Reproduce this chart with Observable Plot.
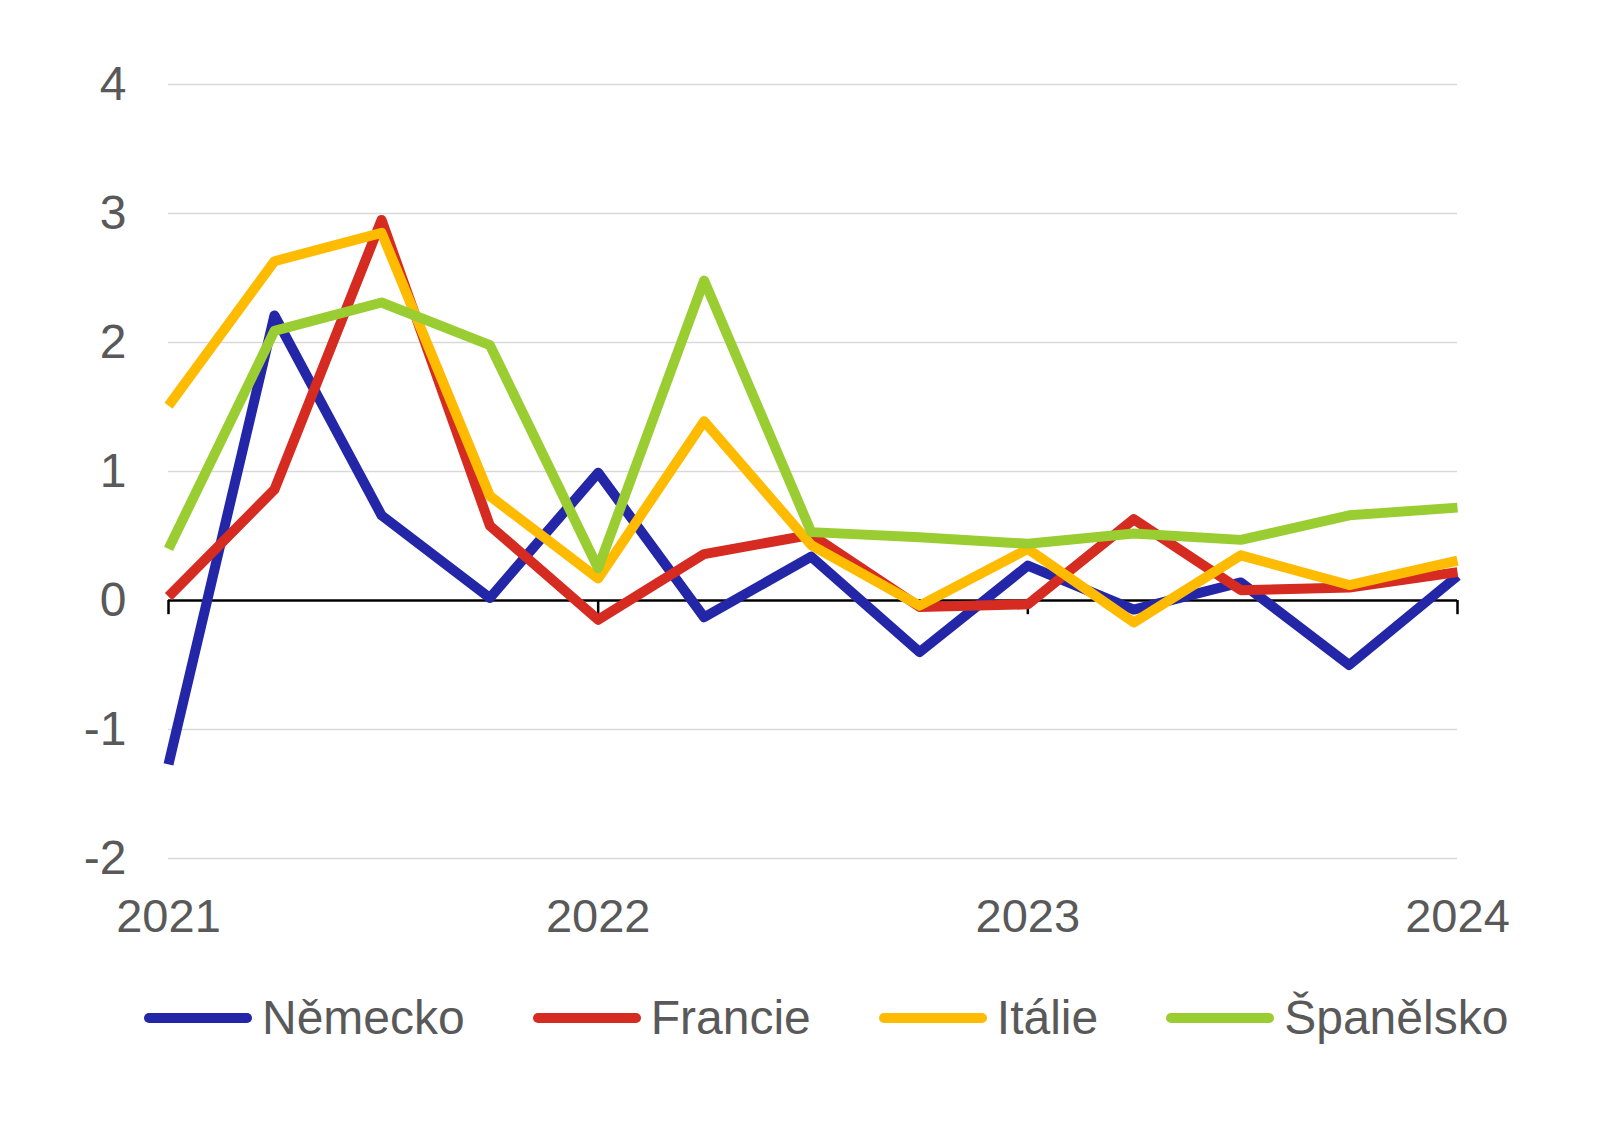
<!DOCTYPE html>
<html>
<head>
<meta charset="utf-8">
<script src="https://cdn.jsdelivr.net/npm/d3@7"></script>
<script src="https://cdn.jsdelivr.net/npm/@observablehq/plot@0.6"></script>
<style>
  html, body { margin: 0; padding: 0; background: #fff; }
  body { width: 1617px; height: 1125px; font-family: "Liberation Sans", Arial, sans-serif; }
  #legend { display: flex; align-items: center; margin-left: 144px; margin-top: 38px; height: 60px; gap: 68px; }
  .item { display: flex; align-items: center; }
  .sw { width: 108px; height: 10px; border-radius: 5px; margin-right: 10px; }
  .lab { font-size: 48px; color: #595959; line-height: 60px; }
</style>
</head>
<body>
<div id="chart"></div>
<div id="legend"></div>
<script>
const periods = ["2021-01-01","2021-04-01","2021-07-01","2021-10-01","2022-01-01","2022-04-01","2022-07-01","2022-10-01","2023-01-01","2023-04-01","2023-07-01","2023-10-01","2024-01-01"];
const seriesNames = ["Německo", "Francie", "Itálie", "Španělsko"];
const seriesColors = ["#2426A8", "#D52B20", "#FFBB00", "#9ACD32"];
const nemecko   = [-1.27, 2.21, 0.66, 0.02, 0.99, -0.13, 0.34, -0.40, 0.27, -0.07, 0.14, -0.50, 0.19];
const francie   = [0.03, 0.86, 2.95, 0.58, -0.15, 0.36, 0.51, -0.05, -0.03, 0.63, 0.08, 0.10, 0.22];
const italie    = [1.51, 2.63, 2.85, 0.81, 0.17, 1.39, 0.43, -0.04, 0.40, -0.17, 0.35, 0.12, 0.31];
const spanelsko = [0.40, 2.09, 2.31, 1.98, 0.25, 2.48, 0.53, 0.49, 0.44, 0.52, 0.47, 0.66, 0.72];
const yTicks = [-2, -1, 0, 1, 2, 3, 4];
const xTickYears = ["2021-01-01", "2022-01-01", "2023-01-01", "2024-01-01"];

const allSeries = [nemecko, francie, italie, spanelsko];
const data = [];
allSeries.forEach((vals, si) => {
  vals.forEach((v, i) => data.push({ date: new Date(periods[i]), value: v, series: seriesNames[si] }));
});
const xTicks = xTickYears.map(d => new Date(d));
const yFmt = d => (d < 0 ? "-" + Math.abs(d) : String(d));

const chart = Plot.plot({
  width: 1617,
  height: 950,
  marginLeft: 168,
  marginRight: 160,
  marginTop: 84,
  marginBottom: 92,
  style: { fontFamily: "'Liberation Sans', Arial, sans-serif", fontSize: "46px", color: "#595959", background: "#fff" },
  x: { type: "utc", domain: [new Date(periods[0]), new Date(periods[periods.length - 1])], ticks: xTicks, tickFormat: d3.utcFormat("%Y") },
  y: { domain: [-2, 4], ticks: yTicks, tickFormat: yFmt },
  color: { domain: seriesNames, range: seriesColors },
  marks: [
    Plot.ruleY(yTicks.filter(t => t !== 0), { stroke: "#d9d9d9", strokeWidth: 1.5 }),
    Plot.axisY({ ticks: yTicks, tickSize: 0, tickPadding: 42, label: null, fill: "#595959", fontSize: 48, tickFormat: yFmt }),
    Plot.axisX({ ticks: xTicks, tickSize: 0, tickPadding: 40, label: null, fill: "#595959", fontSize: 47, tickFormat: d3.utcFormat("%Y") }),
    Plot.ruleY([0], { stroke: "#000", strokeWidth: 2.5 }),
    Plot.ruleX(xTicks, { y1: 0, y2: -0.11, stroke: "#000", strokeWidth: 2.5 }),
    Plot.line(data, { x: "date", y: "value", z: "series", stroke: "series", strokeWidth: 10, strokeLinejoin: "round", strokeLinecap: "butt" })
  ]
});
document.getElementById("chart").appendChild(chart);

const legend = document.getElementById("legend");
seriesNames.forEach((name, i) => {
  const item = document.createElement("div");
  item.className = "item";
  const sw = document.createElement("div");
  sw.className = "sw";
  sw.style.background = seriesColors[i];
  const lab = document.createElement("span");
  lab.className = "lab";
  lab.textContent = name;
  item.appendChild(sw);
  item.appendChild(lab);
  legend.appendChild(item);
});
</script>
</body>
</html>
